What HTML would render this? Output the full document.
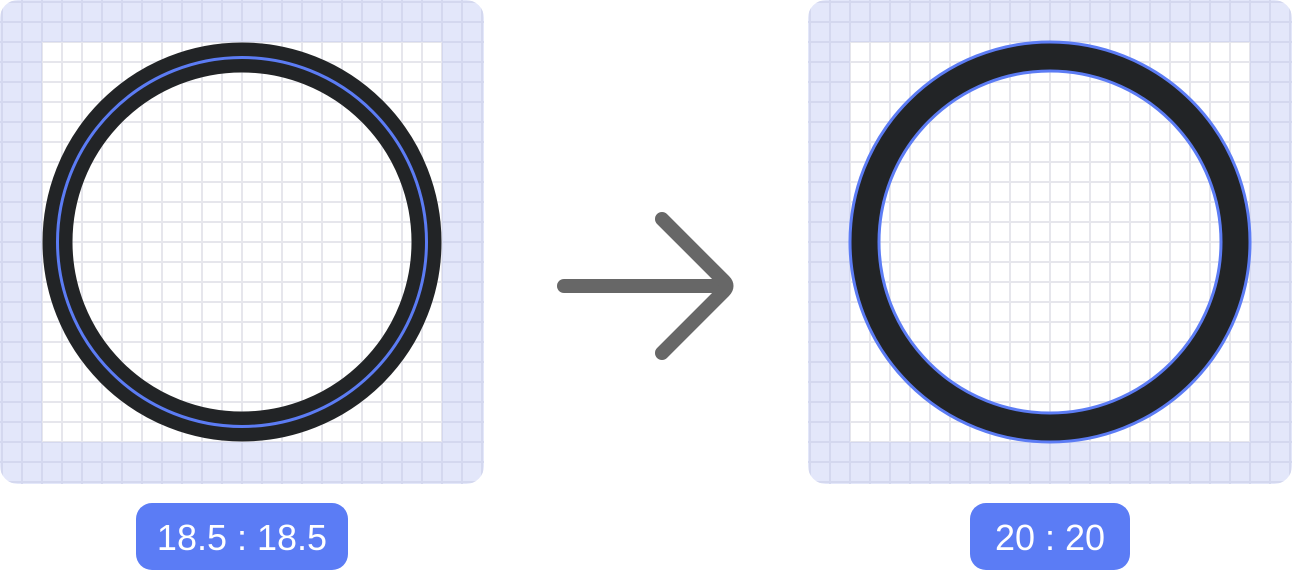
<!DOCTYPE html>
<html><head><meta charset="utf-8"><style>
html,body{margin:0;padding:0;background:#fff;}
svg{display:block;}
text{font-family:"Liberation Sans",sans-serif;}
</style></head><body>
<svg width="1292" height="571" viewBox="0 0 1292 571">
<defs>
<pattern id="grid" x="0" y="0" width="20" height="20" patternUnits="userSpaceOnUse">
<rect x="1" y="0" width="2" height="20" fill="#e6e6ec"/>
<rect x="0" y="1" width="20" height="2" fill="#e6e6ec"/>
</pattern>
<pattern id="gridb" x="0" y="0" width="20" height="20" patternUnits="userSpaceOnUse">
<rect x="1" y="0" width="2" height="20" fill="#d4d8ef"/>
<rect x="0" y="1" width="20" height="2" fill="#d4d8ef"/>
</pattern>
<clipPath id="cl"><rect x="0" y="0" width="484" height="484" rx="18"/></clipPath>
</defs>

<g clip-path="url(#cl)">
<rect x="0" y="0" width="484" height="484" fill="#e3e7fa"/>
<rect x="0" y="0" width="484" height="484" fill="url(#gridb)"/>
<rect x="42" y="42" width="400" height="400" fill="#fff"/>
<rect x="42" y="42" width="400" height="400" fill="url(#grid)"/>
</g>
<g>
<circle cx="242" cy="242" r="184.5" fill="none" stroke="#222426" stroke-width="30"/>
<circle cx="242" cy="242" r="184.5" fill="none" stroke="#5c7cf4" stroke-width="3"/>
</g>

<g transform="translate(808,0)">
<g clip-path="url(#cl)">
<rect x="0" y="0" width="484" height="484" fill="#e3e7fa"/>
<rect x="0" y="0" width="484" height="484" fill="url(#gridb)"/>
<rect x="42" y="42" width="400" height="400" fill="#fff"/>
<rect x="42" y="42" width="400" height="400" fill="url(#grid)"/>
</g>
<g>
<circle cx="242" cy="242" r="185.5" fill="none" stroke="#222426" stroke-width="30"/>
<circle cx="242" cy="242" r="200" fill="none" stroke="#5c7cf4" stroke-width="3"/>
<circle cx="242" cy="242" r="171" fill="none" stroke="#5c7cf4" stroke-width="3"/>
</g>
</g>

<g fill="none" stroke="#676767" stroke-width="14" stroke-linecap="round" stroke-linejoin="round">
<path d="M564 286 H722"/>
<path d="M662 219 L724 281 Q729 286 724 291 L662 353"/>
</g>

<g>
<rect x="136" y="503" width="212" height="67" rx="16" fill="#5b7cf5"/>
<text x="242" y="550" text-anchor="middle" font-size="36" fill="#fff">18.5 : 18.5</text>
</g>
<g>
<rect x="970" y="503" width="160" height="67" rx="16" fill="#5b7cf5"/>
<text x="1050" y="550" text-anchor="middle" font-size="36" fill="#fff">20 : 20</text>
</g>
</svg>
</body></html>
